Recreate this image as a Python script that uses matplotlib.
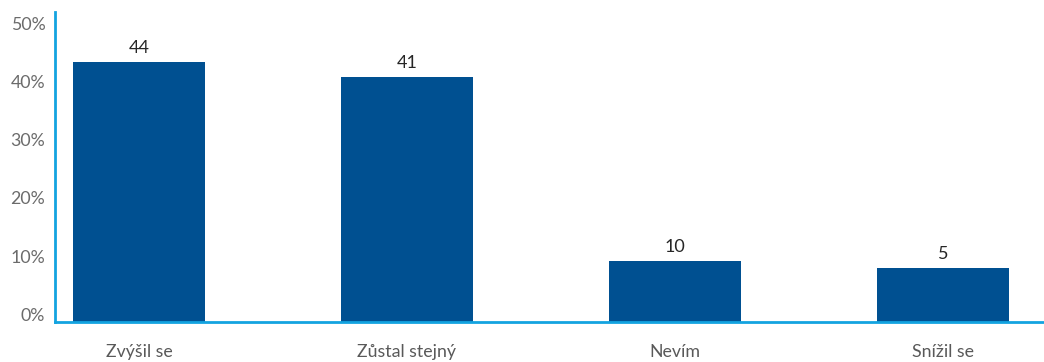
import matplotlib.pyplot as plt
import numpy as np

plt.rcParams["font.family"] = ["Lato", "DejaVu Sans"]

# data
categories = ["Zvýšil se", "Zůstal stejný", "Nevím", "Snížil se"]
bar_heights = [43.3, 40.7, 9.1, 7.9]   # bar tops in % as drawn
value_labels = ["44", "41", "10", "5"]
y_ticks = [0, 10, 20, 30, 40, 50]

bar_color = "#005091"
axis_color = "#13A3E0"

ybot, ytop = -1.3, 51.9

fig = plt.figure(figsize=(10.44, 3.62), dpi=100)
ax = fig.add_axes([55 / 1044, 40 / 362, 1 - 55 / 1044, 310 / 362])

x = np.arange(len(categories))
heights = [h - ybot for h in bar_heights]
bars = ax.bar(x, heights, bottom=ybot, width=0.49, color=bar_color, zorder=2)

for xi, h, lab in zip(x, bar_heights, value_labels):
    ax.annotate(lab, (xi, h), xytext=(0, 4.5), textcoords="offset points",
                ha="center", va="bottom", fontsize=13, color="#262626")

ax.set_xlim(-0.313, 3.377)
ax.set_ylim(ybot, ytop)
ax.set_yticks(y_ticks)
ax.set_yticklabels([f"{t}%" for t in y_ticks])
ax.set_xticks(x)
ax.set_xticklabels(categories)

ax.tick_params(axis="y", length=0, pad=7, labelsize=12.8, labelcolor="#6b6b6b")
ax.tick_params(axis="x", length=0, pad=16, labelsize=12.8, labelcolor="#595959")

for s in ["top", "right"]:
    ax.spines[s].set_visible(False)
for s in ["left", "bottom"]:
    ax.spines[s].set_color(axis_color)
    ax.spines[s].set_linewidth(2)

fig.savefig("out.png", dpi=100)
